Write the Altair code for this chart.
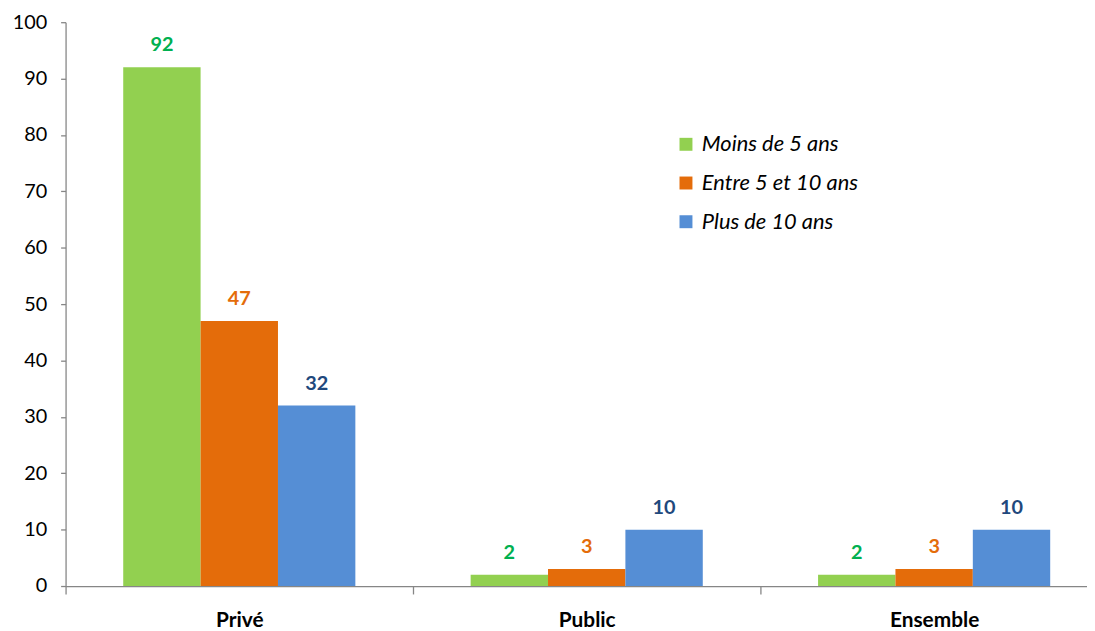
import altair as alt
import pandas as pd

categories = ["Privé", "Public", "Ensemble"]
series = ["Moins de 5 ans", "Entre 5 et 10 ans", "Plus de 10 ans"]
values = {
    "Moins de 5 ans": [92, 2, 2],
    "Entre 5 et 10 ans": [47, 3, 3],
    "Plus de 10 ans": [32, 10, 10],
}
bar_colors = ["#92D050", "#E46C0A", "#558ED5"]
label_colors = ["#00B050", "#E46C0A", "#1F497D"]
y_ticks = list(range(0, 101, 10))

rows = []
for s, lc in zip(series, label_colors):
    for c, v in zip(categories, values[s]):
        rows.append({"cat": c, "serie": s, "val": v, "lc": lc})
df = pd.DataFrame(rows)

FONT = "Lato"
W = 1029
H = 568
FULL = 1050  # full 3-band range, last part is cut off like in the source

x = alt.X("cat:N", sort=categories, title=None,
          scale=alt.Scale(domain=categories, range=[0, FULL], paddingInner=0, paddingOuter=0),
          axis=alt.Axis(labelAngle=0, labelFont=FONT, labelFontSize=21, labelFontWeight="bold",
                        labelColor="#000000", labelBaseline="alphabetic", labelPadding=33,
                        tickBand="extent", tickSize=8,
                        tickColor="#868686", domainColor="#868686", domainWidth=1.3, tickWidth=1.3))
xo = alt.XOffset("serie:N", sort=series,
                 scale=alt.Scale(domain=series, paddingInner=0, paddingOuter=0.745))
y = alt.Y("val:Q", title=None,
          scale=alt.Scale(domain=[0, 100], nice=False),
          axis=alt.Axis(values=y_ticks, grid=False, labelFont=FONT, labelFontSize=20,
                        labelColor="#000000", tickSize=5, labelPadding=14,
                        tickColor="#868686", domainColor="#868686", domainWidth=1.3, tickWidth=1.3))

bars = alt.Chart(df).mark_bar().encode(
    x=x, xOffset=xo, y=y,
    color=alt.Color("serie:N", sort=series, title=None,
                    scale=alt.Scale(domain=series, range=bar_colors),
                    legend=alt.Legend(orient="none", legendX=614, legendY=112,
                                      symbolType="square", symbolSize=170, symbolStrokeWidth=0,
                                      labelFont=FONT, labelFontSize=22, labelFontStyle="italic",
                                      labelColor="#000000", rowPadding=17, labelOffset=5,
                                      symbolOpacity=1)),
)

labels = alt.Chart(df).mark_text(
    font=FONT, fontSize=20, fontWeight="bold", baseline="alphabetic", dy=-16).encode(
    x=x, xOffset=xo, y=y,
    text=alt.Text("val:Q"),
    color=alt.Color("lc:N", scale=None, legend=None),
)

chart = alt.layer(bars, labels).properties(
    width=W, height=H,
    autosize=alt.AutoSizeParams(type="none"),
    padding={"left": 58, "top": 12, "right": 0, "bottom": 43},
).configure(background="white").configure_view(stroke=None)

chart.save("out.html", embed_options={"renderer": "svg", "actions": False})
